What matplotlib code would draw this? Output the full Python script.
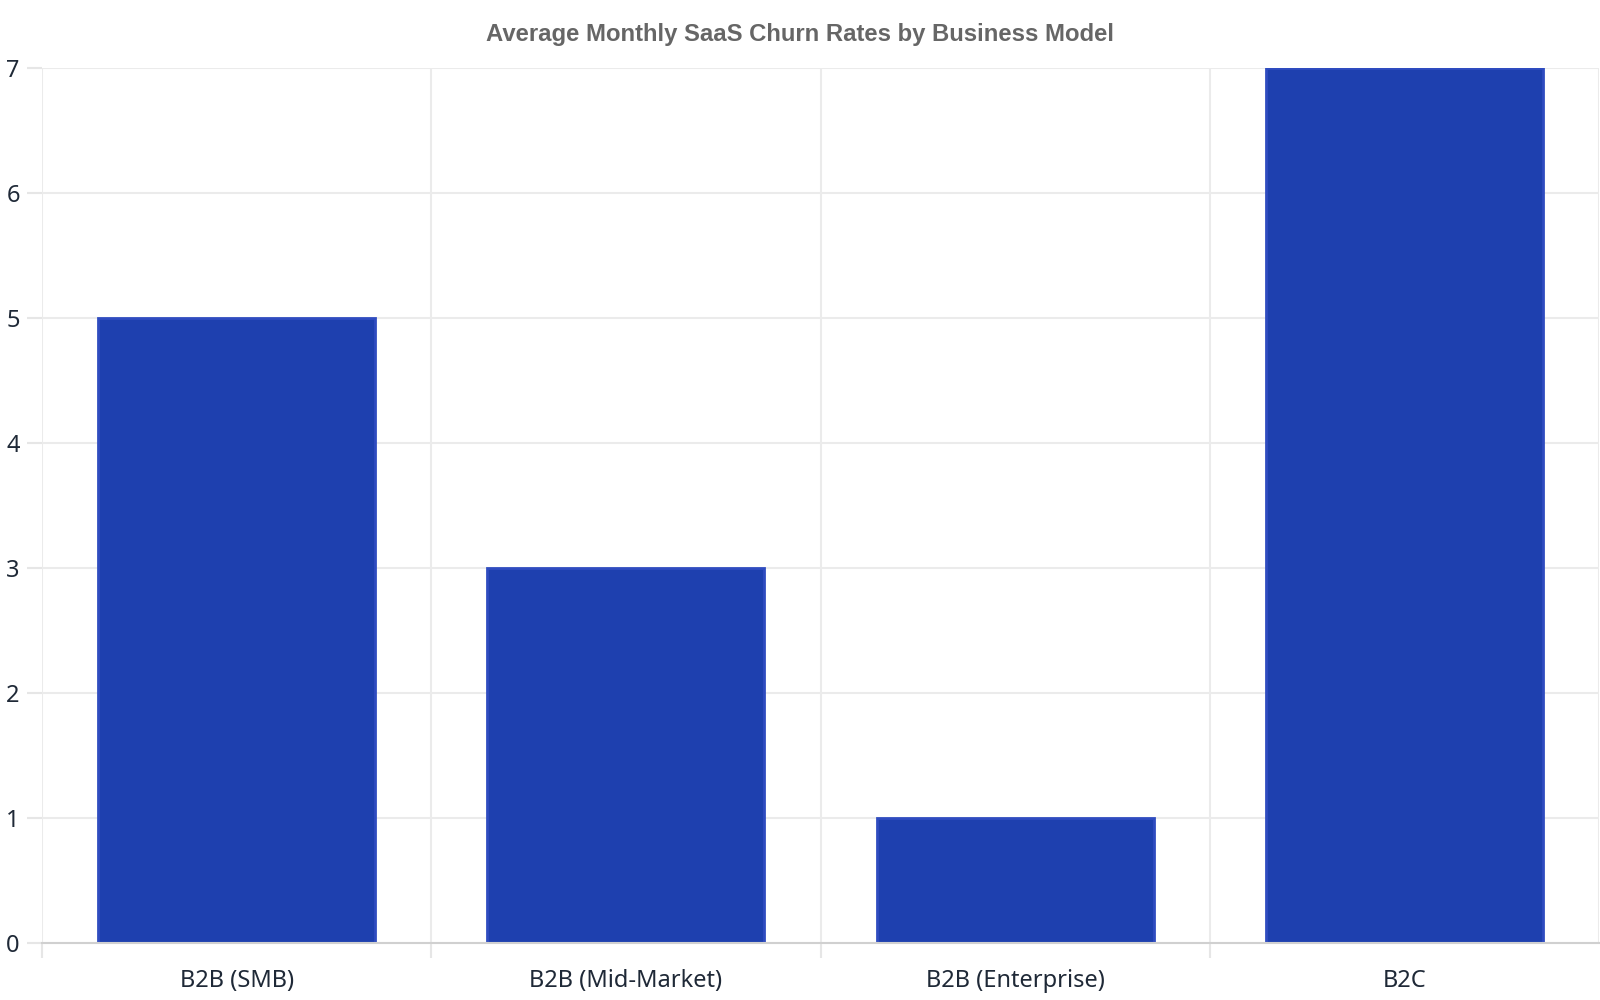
import matplotlib.pyplot as plt
import numpy as np

categories = ["B2B (SMB)", "B2B (Mid-Market)", "B2B (Enterprise)", "B2C"]
churn_rates = [5, 3, 1, 7]
y_ticks = [0, 1, 2, 3, 4, 5, 6, 7]

fig = plt.figure(figsize=(16, 10), dpi=100)
ax = fig.add_axes([42 / 1600, 1 - 943 / 1000, (1599 - 42) / 1600, (943 - 68) / 1000])

x = np.arange(len(categories))
ax.bar(x, churn_rates, width=0.712, color="#1e40af", edgecolor="#2f4cc0", linewidth=2, zorder=3)

ax.set_xlim(-0.5, len(categories) - 0.5)
ax.set_ylim(0, 7)
ax.set_yticks(y_ticks)
ax.set_yticklabels([str(v) for v in y_ticks], fontfamily="Noto Sans", fontsize=17, color="#1f2937")

# category ticks sit between bars, labels centred on bars
ax.set_xticks(np.arange(-0.5, len(categories) - 0.5, 1.0))
ax.set_xticklabels([])
ax.set_xticks(x, minor=True)
ax.set_xticklabels(categories, minor=True, fontfamily="Noto Sans", fontsize=17, color="#1f2937")
ax.tick_params(axis="x", which="major", length=11, color="#e6e6e6", width=1.5)
ax.tick_params(axis="x", which="minor", length=0, pad=19)
ax.tick_params(axis="y", length=11, color="#e6e6e6", width=1.5, pad=5)

ax.grid(True, axis="both", which="major", color="#ebebeb", linewidth=1.5, zorder=0)
ax.axvline(len(categories) - 0.5, color="#ebebeb", linewidth=1.5, zorder=0)
for side in ["top", "right", "left"]:
    ax.spines[side].set_visible(False)
ax.spines["bottom"].set_color("#d0d0d0")
ax.spines["bottom"].set_linewidth(1.5)
ax.spines["bottom"].set_zorder(4)

fig.text(0.5, 1 - 34 / 1000, "Average Monthly SaaS Churn Rates by Business Model",
         ha="center", va="center", fontfamily="Liberation Sans", fontweight="bold",
         fontsize=17.2, color="#666666")

fig.savefig("out.png", dpi=100)
plt.close(fig)
